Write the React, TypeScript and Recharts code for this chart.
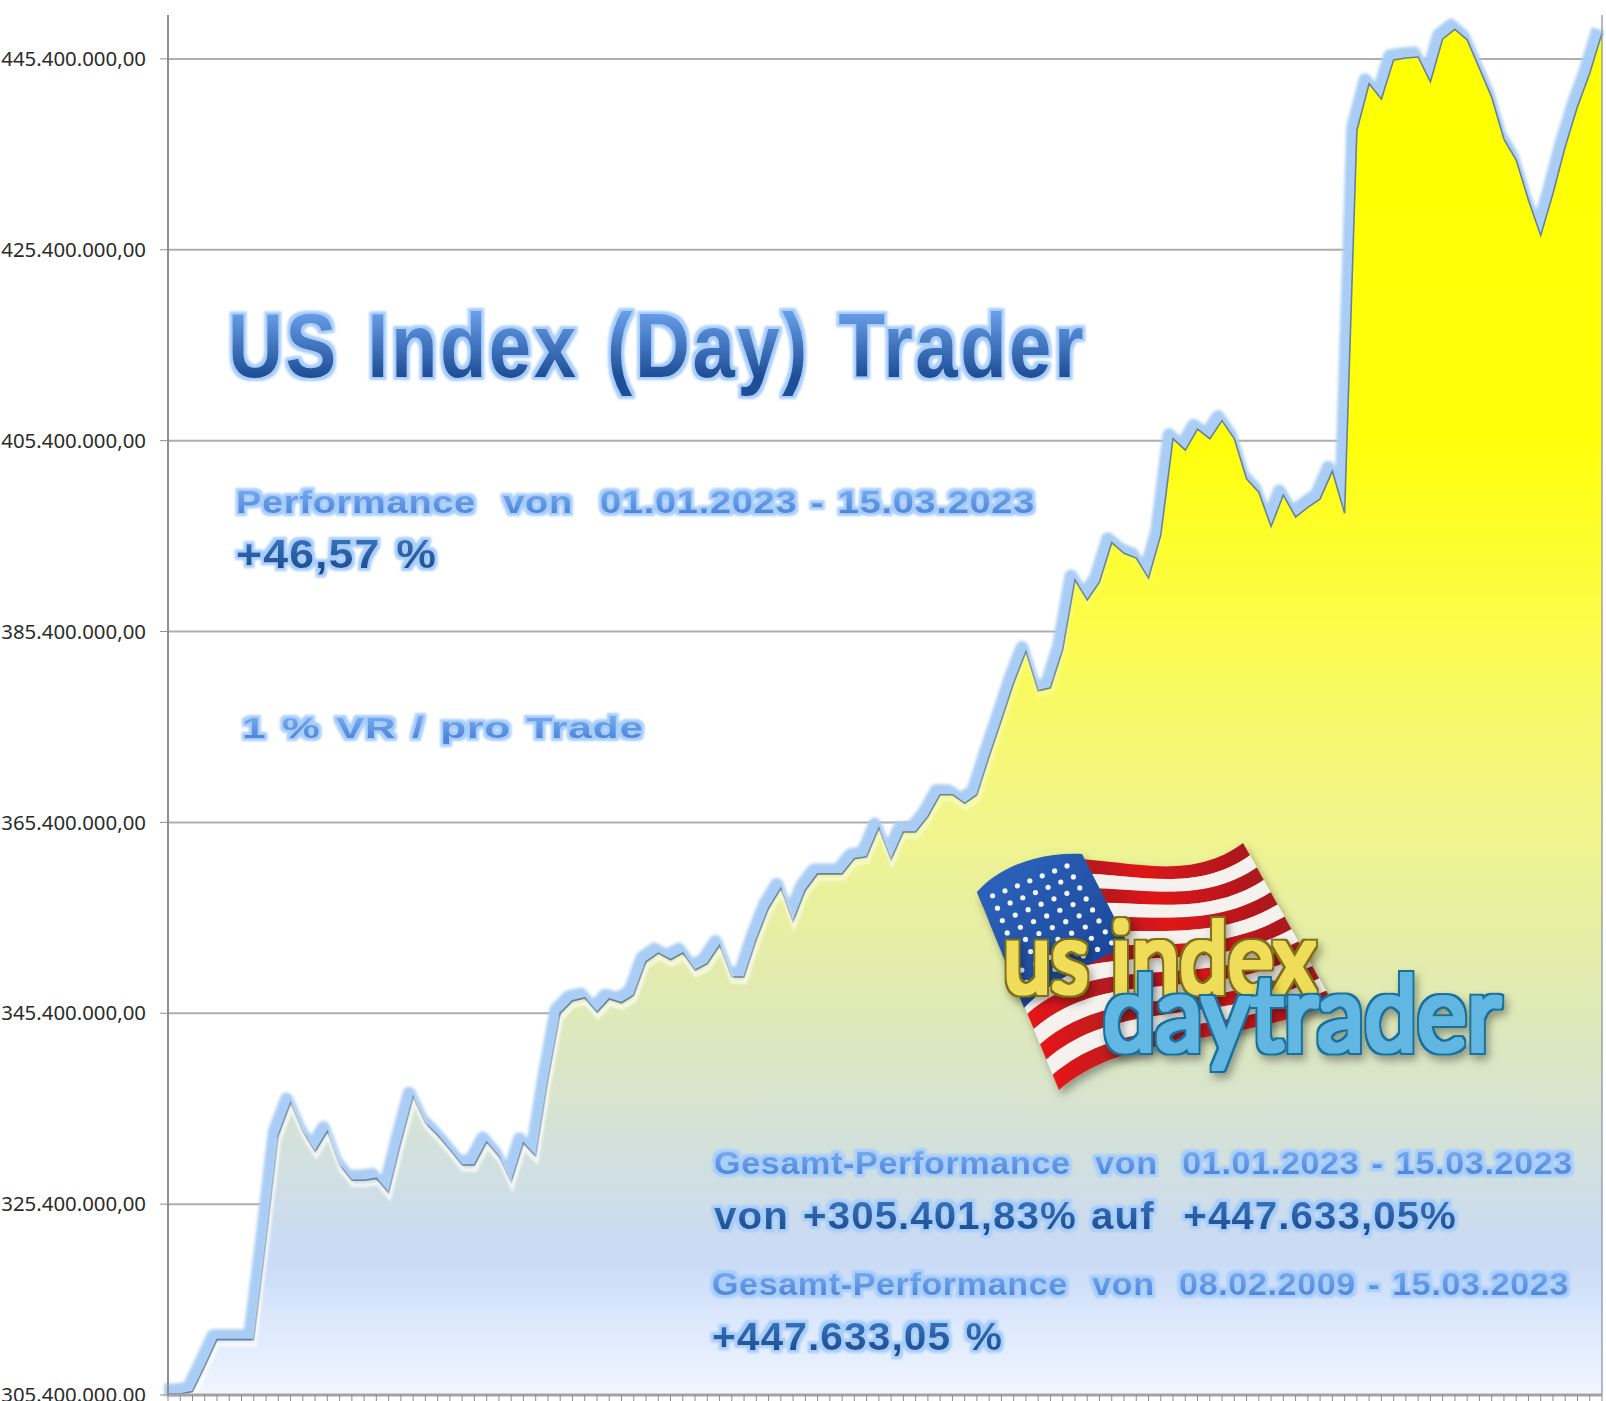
import { Area, CartesianGrid, ComposedChart, ReferenceLine, XAxis, YAxis } from "recharts";

const kontostand = [
  305.5, 305.5, 305.75, 308.4, 311.2, 311.2, 311.2, 311.2, 321.6, 332.6,
  336.0, 333.0, 330.9, 333.0, 329.5, 327.9, 327.9, 328.1, 326.6, 331.8,
  336.6, 333.9, 332.6, 331.1, 329.5, 329.5, 331.9, 330.4, 327.7, 331.8,
  330.4, 338.4, 345.4, 346.7, 347.0, 345.5, 346.9, 346.5, 347.3, 350.8,
  351.7, 351.0, 351.7, 349.9, 350.6, 352.5, 349.2, 349.2, 353.1, 356.4,
  358.5, 355.0, 358.3, 360.0, 360.0, 360.0, 361.6, 361.8, 364.8, 361.5,
  364.4, 364.4, 366.0, 368.3, 368.3, 367.4, 368.3, 372.3, 376.1, 380.0,
  383.3, 379.2, 379.5, 383.5, 390.8, 388.7, 390.6, 394.7, 393.6, 393.1,
  391.0, 395.5, 405.6, 404.4, 406.6, 405.6, 407.5, 405.6, 401.4, 400.0,
  396.4, 399.7, 397.4, 398.4, 399.3, 402.2, 397.8, 437.9, 442.8, 441.2,
  445.3, 445.5, 445.6, 443.0, 447.5, 448.5, 447.4, 444.4, 441.4, 437.0,
  434.8, 430.6, 426.9, 431.3, 436.2, 440.4, 443.9, 448.1,
];

const yTicks = [305.4, 325.4, 345.4, 365.4, 385.4, 405.4, 425.4, 445.4];

const daten = kontostand.map((wert, tick) => ({ tick, wert }));

const euro = (v: number) =>
  (v * 1e6).toLocaleString("de-DE", { minimumFractionDigits: 2, maximumFractionDigits: 2 });

const schrift = "'Liberation Sans', Arial, sans-serif";

function Txt({ x, y, w, size, fill, ls = 0.6, ws = 2, children }: any) {
  return (
    <text
      x={x}
      y={y}
      textLength={w}
      lengthAdjust="spacingAndGlyphs"
      fontFamily={schrift}
      fontWeight={700}
      fontSize={size}
      fill={`url(#${fill})`}
      filter="url(#halo)"
      style={{ whiteSpace: "pre", letterSpacing: ls, wordSpacing: ws }}
    >
      {children}
    </text>
  );
}

const lerp = (a: number, b: number, t: number) => a + (b - a) * t;

// Flaggen-Kurve bei t zwischen Ober- und Unterkante
function welle(t: number) {
  const p = [
    [977, 892, 1059, 1090],
    [1060, 815, 1130, 1030],
    [1160, 905, 1220, 1050],
    [1243, 843, 1333, 1003],
  ].map(([xa, ya, xb, yb]) => [lerp(xa, xb, t), lerp(ya, yb, t)]);
  return p;
}

function streifen(k: number) {
  const a = welle(k / 13);
  const b = welle((k + 1) / 13);
  return `M${a[0]} C${a[1]} ${a[2]} ${a[3]} L${b[3]} C${b[2]} ${b[1]} ${b[0]} Z`;
}

function LogoFilter({ id, rand, kern }: any) {
  return (
    <filter id={id} x="-10%" y="-20%" width="120%" height="150%">
      <feMorphology in="SourceAlpha" operator="dilate" radius="4" />
      <feGaussianBlur stdDeviation="0.7" result="aussen" />
      <feFlood floodColor={rand} />
      <feComposite in2="aussen" operator="in" result="rand" />
      <feGaussianBlur in="aussen" stdDeviation="4" />
      <feOffset dx="3" dy="5" result="schatten0" />
      <feFlood floodColor="#000" floodOpacity="0.35" />
      <feComposite in2="schatten0" operator="in" result="schatten" />
      <feMorphology in="SourceAlpha" operator="dilate" radius="2" />
      <feGaussianBlur stdDeviation="0.7" result="innen" />
      <feFlood floodColor={kern} />
      <feComposite in2="innen" operator="in" result="kern" />
      <feMerge>
        <feMergeNode in="schatten" />
        <feMergeNode in="rand" />
        <feMergeNode in="kern" />
      </feMerge>
    </filter>
  );
}

function Logo() {
  const sterne: { x: number; y: number }[] = [];
  for (let r = 0; r < 8; r++) {
    for (let c = 0; c < 7; c++) {
      const ty = (r + 0.5) / 8;
      const tx = (c + 0.5) / 7;
      sterne.push({
        x: lerp(lerp(984, 1070, tx), lerp(1022, 1122, tx), ty),
        y: lerp(lerp(892, 858, tx), lerp(992, 945, tx), ty),
      });
    }
  }
  return (
    <g>
      <g filter="url(#logoSchatten)">
        {Array.from({ length: 13 }, (_, k) => (
          <path key={k} d={streifen(k)} fill={k % 2 === 0 ? "url(#rot)" : "#f4f1ee"} />
        ))}
        <path
          d="M977 892 C1000 866 1040 852 1082 854 L1128 944 C1090 965 1050 980 1024 1008 Z"
          fill="url(#kanton)"
        />
        {sterne.map((s, i) => (
          <circle key={i} cx={s.x} cy={s.y} r={2.6} fill="#f3f6fb" />
        ))}
      </g>
      <text
        x={1003}
        y={993}
        textLength={313}
        lengthAdjust="spacingAndGlyphs"
        fontFamily="Lato, 'Noto Sans', sans-serif"
        fontWeight={400}
        fontSize={98}
        fill="#efdc58"
        filter="url(#logoGelb)"
      >
        us index
      </text>
      <text
        x={1103}
        y={1051}
        textLength={398}
        lengthAdjust="spacingAndGlyphs"
        fontFamily="Lato, 'Noto Sans', sans-serif"
        fontWeight={400}
        fontSize={104}
        fill="#62b6e2"
        filter="url(#logoBlau)"
      >
        daytrader
      </text>
    </g>
  );
}

export default function App() {
  return (
    <div style={{ position: "absolute", left: 0, top: 0, width: 1606, height: 1401, overflow: "hidden", background: "#fff" }}>
      <ComposedChart
        width={1606}
        height={1401}
        data={daten}
        margin={{ top: 15, right: 4, bottom: 0, left: 0 }}
      >
        <defs>
          <linearGradient id="flaeche" x1="0" y1="29" x2="0" y2="1395" gradientUnits="userSpaceOnUse">
            <stop offset="0" stopColor="#ffff00" />
            <stop offset="0.3" stopColor="#ffff0a" />
            <stop offset="0.45" stopColor="#fbfb50" />
            <stop offset="0.57" stopColor="#f2f688" />
            <stop offset="0.71" stopColor="#e0eab4" />
            <stop offset="0.79" stopColor="#d6e3d2" />
            <stop offset="0.9" stopColor="#c9daf6" />
            <stop offset="0.94" stopColor="#d9e6fc" />
            <stop offset="1" stopColor="#f1f6fe" />
          </linearGradient>
          <linearGradient id="bevel" x1="0" y1="500" x2="0" y2="1000" gradientUnits="userSpaceOnUse">
            <stop offset="0" stopColor="#ffffff" stopOpacity="0" />
            <stop offset="1" stopColor="#ffffff" stopOpacity="0.7" />
          </linearGradient>
          <filter id="glow" filterUnits="userSpaceOnUse" x="0" y="0" width="1606" height="1401">
            <feOffset dx="-4" dy="-4" />
            <feGaussianBlur stdDeviation="1.6" />
          </filter>
          <filter id="bevelF" filterUnits="userSpaceOnUse" x="0" y="0" width="1606" height="1401">
            <feOffset dx="1" dy="5" />
            <feGaussianBlur stdDeviation="1.2" />
          </filter>
        </defs>
        <CartesianGrid vertical={false} stroke="#adadad" strokeWidth={2} horizontalValues={yTicks} />
        <XAxis
          dataKey="tick"
          scale="point"
          interval={0}
          height={6}
          tickSize={6}
          tickFormatter={() => ""}
          stroke="#a3a3a3"
          axisLine={{ stroke: "#a3a3a3", strokeWidth: 3 }}
          tickLine={{ stroke: "#8c8c8c" }}
        />
        <YAxis
          width={168}
          domain={[305.4, 450]}
          ticks={yTicks}
          interval={0}
          tickFormatter={euro}
          tickSize={8}
          tickMargin={14}
          tick={{ fill: "#2b2b2b", fontSize: 20.4, fontFamily: "'Noto Sans', sans-serif" }}
          axisLine={{ stroke: "#8f8f8f", strokeWidth: 2 }}
          tickLine={{ stroke: "#8f8f8f" }}
        />
        <Area
          dataKey="wert"
          type="linear"
          fill="none"
          stroke="#a9cdf4"
          strokeWidth={13}
          strokeLinejoin="round"
          filter="url(#glow)"
          dot={false}
          activeDot={false}
          isAnimationActive={false}
        />
        <Area
          dataKey="wert"
          type="linear"
          fill="url(#flaeche)"
          fillOpacity={1}
          stroke="#67809c"
          strokeWidth={1.6}
          dot={false}
          activeDot={false}
          isAnimationActive={false}
        />
        <Area
          dataKey="wert"
          type="linear"
          fill="none"
          stroke="url(#bevel)"
          strokeWidth={4}
          filter="url(#bevelF)"
          dot={false}
          activeDot={false}
          isAnimationActive={false}
        />
        <ReferenceLine x={kontostand.length - 1} stroke="#9aa3ad" strokeWidth={1.5} />
      </ComposedChart>

      <svg width={1606} height={1401} style={{ position: "absolute", left: 0, top: 0, pointerEvents: "none" }}>
        <defs>
          <linearGradient id="gTitel" x1="0" y1="0" x2="0" y2="1">
            <stop offset="0.12" stopColor="#6ea4ee" />
            <stop offset="0.8" stopColor="#1f4f97" />
          </linearGradient>
          <linearGradient id="gHell" x1="0" y1="0" x2="0" y2="1">
            <stop offset="0.1" stopColor="#7dadf2" />
            <stop offset="0.85" stopColor="#4c84d8" />
          </linearGradient>
          <linearGradient id="gDunkel" x1="0" y1="0" x2="0" y2="1">
            <stop offset="0.1" stopColor="#3a76bf" />
            <stop offset="0.85" stopColor="#1d4d90" />
          </linearGradient>
          <linearGradient id="rot" x1="0" y1="0" x2="1" y2="0">
            <stop offset="0" stopColor="#e81818" />
            <stop offset="0.35" stopColor="#a61c22" />
            <stop offset="0.6" stopColor="#e01418" />
            <stop offset="1" stopColor="#a81a20" />
          </linearGradient>
          <linearGradient id="kanton" x1="0" y1="0" x2="1" y2="1">
            <stop offset="0" stopColor="#2f66c0" />
            <stop offset="1" stopColor="#16408f" />
          </linearGradient>
          <filter id="halo" x="-5%" y="-30%" width="110%" height="160%">
            <feMorphology in="SourceAlpha" operator="dilate" radius="2.5" />
            <feGaussianBlur stdDeviation="1.3" result="b" />
            <feFlood floodColor="#a6cdfb" />
            <feComposite in2="b" operator="in" result="h" />
            <feGaussianBlur in="SourceGraphic" stdDeviation="0.5" result="s" />
            <feMerge>
              <feMergeNode in="h" />
              <feMergeNode in="s" />
            </feMerge>
          </filter>
          <filter id="logoSchatten" x="-10%" y="-10%" width="120%" height="130%">
            <feDropShadow dx="3" dy="5" stdDeviation="4" floodColor="#000" floodOpacity="0.35" />
          </filter>
          <LogoFilter id="logoGelb" rand="#7d6f14" kern="#efdc58" />
          <LogoFilter id="logoBlau" rand="#19719c" kern="#62b6e2" />
        </defs>
        <Txt x={228} y={377} w={858} size={91} ls={3} ws={6} fill="gTitel">US Index (Day) Trader</Txt>
        <Txt x={236} y={513} w={799} size={32} fill="gHell">Performance  von  01.01.2023 - 15.03.2023</Txt>
        <Txt x={236} y={568} w={201} size={41} ls={1} fill="gDunkel">+46,57 %</Txt>
        <Txt x={242} y={738} w={402} size={30} fill="gHell">1 % VR / pro Trade</Txt>
        <Logo />
        <Txt x={714} y={1174} w={859} size={32} fill="gHell">Gesamt-Performance  von  01.01.2023 - 15.03.2023</Txt>
        <Txt x={714} y={1229} w={743} size={39} ls={1} fill="gDunkel">von +305.401,83% auf  +447.633,05%</Txt>
        <Txt x={712} y={1295} w={857} size={32} fill="gHell">Gesamt-Performance  von  08.02.2009 - 15.03.2023</Txt>
        <Txt x={712} y={1350} w={291} size={39} ls={1} fill="gDunkel">+447.633,05 %</Txt>
      </svg>
    </div>
  );
}
